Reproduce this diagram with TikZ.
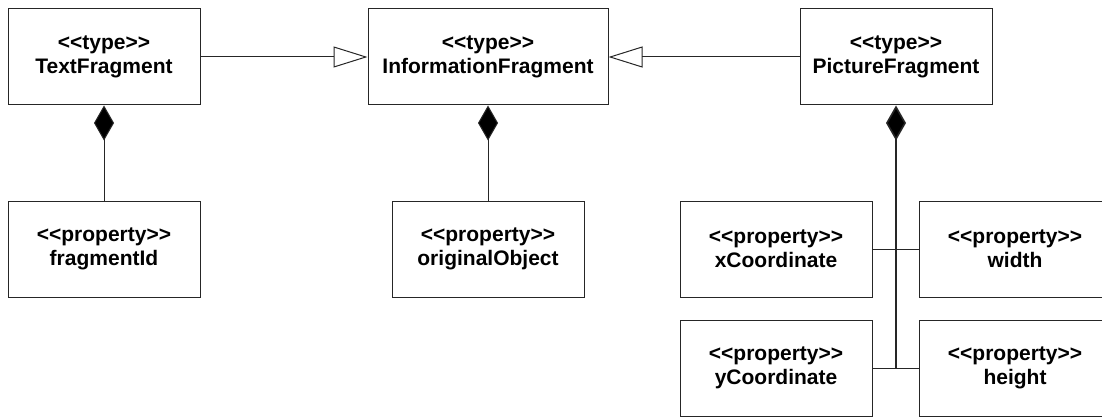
\documentclass[tikz,border=0pt]{standalone}
\usepackage{fontspec}
\setmainfont{Liberation Sans}
\usetikzlibrary{arrows.meta}
% guillemet-free stereotype: keep << and >> as separate characters
\newcommand{\stereo}[1]{<{}<#1>{}>}
\begin{document}
\begin{tikzpicture}[x=1pt,y=-1pt,
  umlbox/.style={draw=black!85, line width=1pt, fill=white, inner sep=0pt,
    minimum width=192pt, minimum height=96pt, align=center,
    font=\fontsize{21}{24}\selectfont\bfseries},
  link/.style={draw=black!85, line width=1pt},
  inherits/.style={link, -{Triangle[open, length=34pt, width=21pt, line width=1pt]}},
  composed/.style={link, {Diamond[length=35pt, width=20pt, fill=black]}-}]
  \useasboundingbox (0,0) rectangle (1102,417);
  \clip (0,0) rectangle (1102,417);

  % type boxes
  \node[umlbox] (tf) at (104,57) {\stereo{type}\\TextFragment};
  \node[umlbox, minimum width=240pt] (inf) at (488,57) {\stereo{type}\\InformationFragment};
  \node[umlbox] (pf) at (896,57) {\stereo{type}\\PictureFragment};

  % property boxes
  \node[umlbox] (fid) at (104,249) {\stereo{property}\\fragmentId};
  \node[umlbox] (oo) at (488,249) {\stereo{property}\\originalObject};
  \node[umlbox] (xc) at (776,249) {\stereo{property}\\xCoordinate};
  \node[umlbox] (wd) at (1015,249) {\stereo{property}\\width};
  \node[umlbox] (yc) at (776,368) {\stereo{property}\\yCoordinate};
  \node[umlbox] (ht) at (1015,368) {\stereo{property}\\height};

  % generalisation
  \draw[inherits] (tf.east) -- (inf.west);
  \draw[inherits] (pf.west) -- (inf.east);

  % compositions
  \draw[composed] (tf.south) -- (fid.north);
  \draw[composed] (inf.south) -- (oo.north);
  \coordinate (bus) at (896,368);
  \draw[composed, line width=1.6pt] (pf.south) -- (bus);
  \draw[link] (xc.east) -- (wd.west);
  \draw[link] (yc.east) -- (ht.west);
\end{tikzpicture}
\end{document}
